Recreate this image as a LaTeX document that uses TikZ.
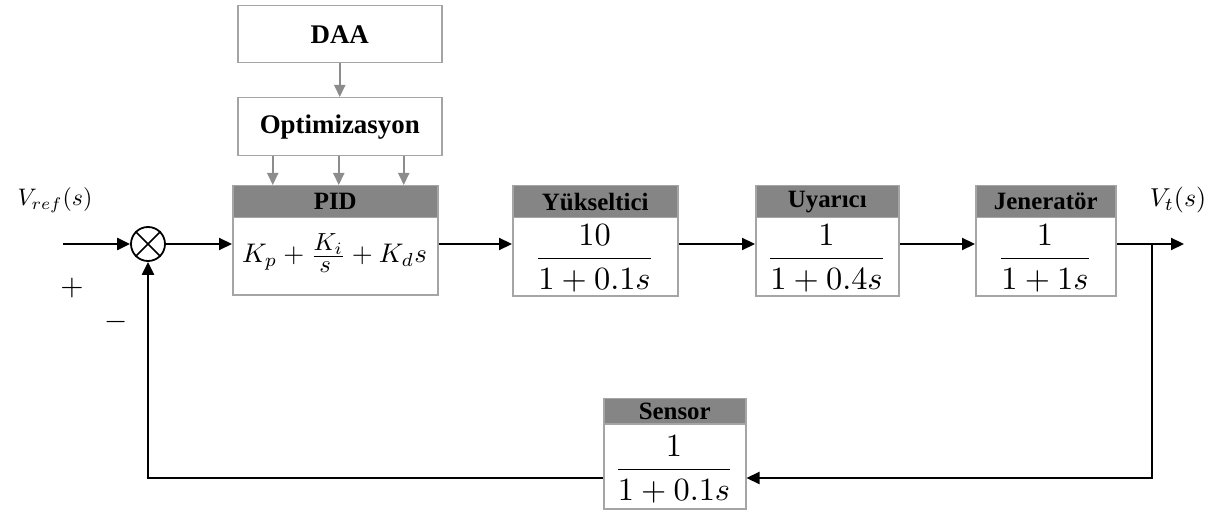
\documentclass[tikz,border=0pt]{standalone}
\usepackage{fontspec}
\usepackage{graphicx}
\setmainfont{Liberation Serif}
\usetikzlibrary{arrows.meta}
\definecolor{headgray}{RGB}{133,133,133}
\definecolor{boxgray}{RGB}{165,165,165}
\definecolor{arrgray}{RGB}{140,140,140}
\begin{document}
\begin{tikzpicture}[x=1bp,y=-1bp,
  blk/.style={draw=boxgray, line width=1.5bp, fill=white, anchor=north west, inner sep=0pt},
  hd/.style={draw=boxgray, fill=headgray, line width=1.5bp, anchor=north west, inner sep=0pt,
             font=\fontsize{25}{28}\selectfont\bfseries},
  topbox/.style={draw=boxgray, line width=1.5bp, anchor=north west, inner sep=0pt,
             minimum width=204bp, minimum height=57bp, font=\fontsize{27}{30}\selectfont\bfseries},
  mth/.style={inner sep=0pt},
  sig/.style={line width=2.2bp, -{Triangle[length=13bp,width=12bp]}},
  ctl/.style={draw=arrgray, line width=2bp, -{Triangle[length=12bp,width=11bp,fill=arrgray]}}
]
\useasboundingbox (0,0) rectangle (1218,512);

% top control boxes
\node[topbox] (daa) at (237,5) {DAA};
\node[topbox, minimum height=58bp] (opt) at (237,97) {Optimizasyon};

% PID
\node[blk, minimum width=205bp, minimum height=109bp] (pid) at (232,185) {};
\node[hd, minimum width=205bp, minimum height=32bp] (pidh) at (232,185) {PID};
\node[mth] (pidm) at (334.5,253) {\scalebox{2.7}{$K_p+\frac{\scalebox{0.92}{$K_i$}}{\scalebox{0.92}{$s$}}+K_d s$}};

% Yukseltici
\node[blk, minimum width=165bp, minimum height=110bp] (yuk) at (512,185) {};
\node[hd, minimum width=165bp, minimum height=32bp] (yukh) at (512,185) {Yükseltici};
\node[mth] (yukm) at (594.5,258) {\scalebox{3.25}{$\displaystyle\frac{10}{1+0.1s}$}};

% Uyarici
\node[blk, minimum width=143bp, minimum height=110bp] (uya) at (755,185) {};
\node[hd, minimum width=143bp, minimum height=32bp] (uyah) at (755,185) {Uyarıcı};
\node[mth] (uyam) at (826.5,258) {\scalebox{3.25}{$\displaystyle\frac{1}{1+0.4s}$}};

% Jenerator
\node[blk, minimum width=140bp, minimum height=110bp] (jen) at (975,185) {};
\node[hd, minimum width=140bp, minimum height=32bp] (jenh) at (975,185) {Jeneratör};
\node[mth] (jenm) at (1045,258) {\scalebox{3.25}{$\displaystyle\frac{1}{1+1s}$}};

% Sensor
\node[blk, minimum width=142bp, minimum height=110bp] (sen) at (603,398) {};
\node[hd, minimum width=142bp, minimum height=25bp] (senh) at (603,398) {Sensor};
\node[mth] (senm) at (674,469) {\scalebox{3.25}{$\displaystyle\frac{1}{1+0.1s}$}};

% summing junction
\node[circle, draw, line width=1.8bp, minimum size=34bp, inner sep=0pt] (sum) at (148,244) {};
\draw[line width=1.5bp] (sum.45) -- (sum.225) (sum.135) -- (sum.-45);

% coordinates
\coordinate (in) at (63,244);
\coordinate (out) at (1184,244);
\coordinate (br) at (1152,244);
\coordinate (fbr) at (1152,478);
\coordinate (fbl) at (148,478);

% labels
\node[mth] (vref) at (55,200) {\scalebox{2.4}{$V_{ref}(s)$}};
\node[mth] (vt) at (1178,200) {\scalebox{2.6}{$V_t(s)$}};
\node[mth] (plus) at (72,288) {\scalebox{3}{$+$}};
\node[mth] (minus) at (116,322) {\scalebox{3}{$-$}};

% signal arrows
\draw[sig] (in) -- (sum.west);
\draw[sig] (sum.east) -- (pid.west |- sum.center);
\draw[sig] (pid.east |- sum.center) -- (yuk.west |- sum.center);
\draw[sig] (yuk.east |- sum.center) -- (uya.west |- sum.center);
\draw[sig] (uya.east |- sum.center) -- (jen.west |- sum.center);
\draw[sig] (jen.east |- sum.center) -- (out);
\draw[sig] (br) -- (fbr) -- (sen.east |- fbr);
\draw[sig] (sen.west |- fbr) -- (fbl) -- (sum.south);

% control arrows
\draw[ctl] (daa.south) -- (opt.north);
\draw[ctl] ([xshift=-67bp]opt.south) -- ([xshift=-67bp]opt.south |- pid.north);
\draw[ctl] ([xshift=-1bp]opt.south) -- ([xshift=-1bp]opt.south |- pid.north);
\draw[ctl] ([xshift=64bp]opt.south) -- ([xshift=64bp]opt.south |- pid.north);
\end{tikzpicture}
\end{document}
